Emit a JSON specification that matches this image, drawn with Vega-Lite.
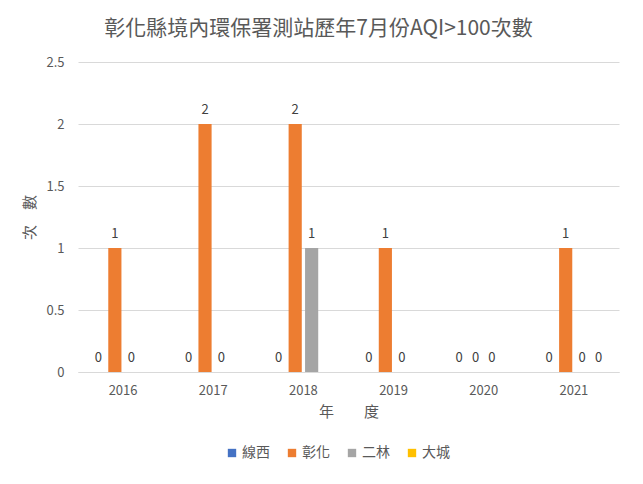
{
  "$schema": "https://vega.github.io/schema/vega-lite/v6.json",
  "width": 541,
  "height": 310,
  "autosize": {"type": "none"},
  "padding": {"left": 78, "top": 62, "right": 24, "bottom": 112},
  "background": "white",
  "config": {
    "font": "Noto Sans CJK TC",
    "view": {"stroke": null}
  },
  "title": {
    "text": "彰化縣境內環保署測站歷年7月份AQI>100次數",
    "fontSize": 21,
    "fontWeight": "normal",
    "color": "#595959",
    "anchor": "middle",
    "dx": -30,
    "offset": 17
  },
  "data": {
    "values": [
      {"year": "2016", "station": "線西", "count": 0},
      {"year": "2016", "station": "彰化", "count": 1},
      {"year": "2016", "station": "二林", "count": 0},
      {"year": "2016", "station": "大城", "count": null},
      {"year": "2017", "station": "線西", "count": 0},
      {"year": "2017", "station": "彰化", "count": 2},
      {"year": "2017", "station": "二林", "count": 0},
      {"year": "2017", "station": "大城", "count": null},
      {"year": "2018", "station": "線西", "count": 0},
      {"year": "2018", "station": "彰化", "count": 2},
      {"year": "2018", "station": "二林", "count": 1},
      {"year": "2018", "station": "大城", "count": null},
      {"year": "2019", "station": "線西", "count": 0},
      {"year": "2019", "station": "彰化", "count": 1},
      {"year": "2019", "station": "二林", "count": 0},
      {"year": "2019", "station": "大城", "count": null},
      {"year": "2020", "station": "線西", "count": 0},
      {"year": "2020", "station": "彰化", "count": 0},
      {"year": "2020", "station": "二林", "count": 0},
      {"year": "2020", "station": "大城", "count": null},
      {"year": "2021", "station": "線西", "count": 0},
      {"year": "2021", "station": "彰化", "count": 1},
      {"year": "2021", "station": "二林", "count": 0},
      {"year": "2021", "station": "大城", "count": 0}
    ]
  },
  "encoding": {
    "x": {
      "field": "year",
      "type": "nominal",
      "scale": {"paddingInner": 0.27, "paddingOuter": 0.135},
      "axis": {
        "title": "年　　度",
        "titleFontSize": 15,
        "titleFontWeight": "normal",
        "titleColor": "#595959",
        "titlePadding": 7,
        "labelAngle": 0,
        "labelFontSize": 13,
        "labelColor": "#595959",
        "labelPadding": 12,
        "ticks": false,
        "domainColor": "#D9D9D9",
        "grid": false
      }
    },
    "xOffset": {
      "field": "station",
      "type": "nominal",
      "scale": {"domain": ["線西", "彰化", "二林", "大城"], "paddingInner": 0.2, "paddingOuter": 0.1}
    },
    "y": {
      "field": "count",
      "type": "quantitative",
      "scale": {"domain": [0, 2.5]},
      "axis": {
        "title": "次　數",
        "titleFontSize": 15,
        "titleFontWeight": "normal",
        "titleColor": "#595959",
        "titlePadding": 8,
        "values": [0, 0.5, 1, 1.5, 2, 2.5],
        "format": ".1~f",
        "labelFontSize": 13,
        "labelColor": "#595959",
        "labelPadding": 14,
        "ticks": false,
        "domain": false,
        "gridColor": "#D9D9D9"
      }
    }
  },
  "layer": [
    {
      "mark": {"type": "bar"},
      "encoding": {
        "color": {
          "field": "station",
          "type": "nominal",
          "scale": {
            "domain": ["線西", "彰化", "二林", "大城"],
            "range": ["#4472C4", "#ED7D31", "#A5A5A5", "#FFC000"]
          },
          "legend": {
            "title": null,
            "orient": "none",
            "legendX": 147,
            "legendY": 384,
            "direction": "horizontal",
            "symbolType": "square",
            "symbolSize": 70,
            "symbolStrokeWidth": 0,
            "labelFontSize": 14,
            "labelColor": "#595959",
            "labelOffset": 3,
            "columnPadding": 15
          }
        }
      }
    },
    {
      "transform": [{"filter": "datum.count != null"}],
      "mark": {"type": "text", "baseline": "bottom", "dy": -7, "fontSize": 13, "color": "#404040"},
      "encoding": {"text": {"field": "count", "type": "quantitative"}}
    }
  ]
}
